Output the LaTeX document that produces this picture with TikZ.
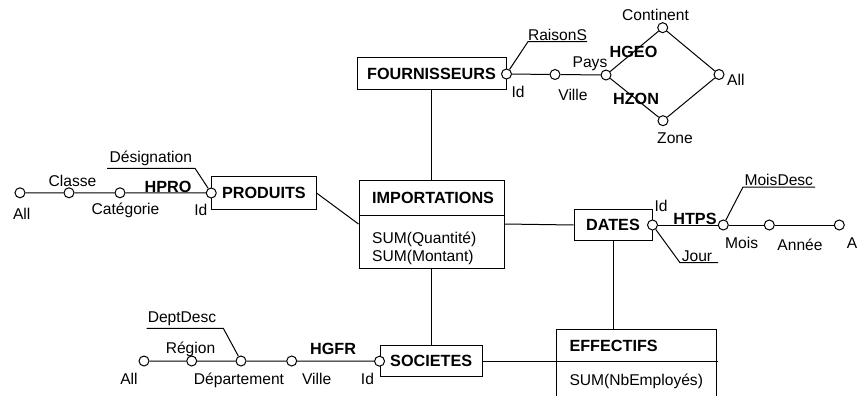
\documentclass[tikz,border=0pt]{standalone}
\usepackage{fontspec}
\setmainfont{Liberation Sans}
\begin{document}
\begin{tikzpicture}[x=1pt,y=-1pt,
  every node/.style={font=\fontsize{15.6}{18}\selectfont},
  ent/.style={draw, rectangle, inner sep=0pt, line width=1pt, font=\fontsize{16.2}{18}\selectfont\bfseries},
  pt/.style={draw, circle, fill=white, minimum size=10pt, inner sep=0pt, line width=1pt},
  lbl/.style={anchor=base, inner sep=0pt},
  blbl/.style={anchor=base, inner sep=0pt, font=\fontsize{16.2}{18}\selectfont\bfseries},
  ln/.style={line width=1pt}]
\useasboundingbox (0,0) rectangle (857,396);

% entities
\node[ent, minimum width=149pt, minimum height=32pt] (four) at (431.5,74) {FOURNISSEURS};
\node[ent, minimum width=145pt, minimum height=88pt] (imp) at (431.5,224) {};
\coordinate (impdiv) at (0,215);
\draw[ln] (imp.west |- impdiv) -- (imp.east |- impdiv);
\node[blbl, anchor=base west] (impt) at (372,203.3) {IMPORTATIONS};
\node[lbl, anchor=base west] (impq) at (372,243.5) {SUM(Quantité)};
\node[lbl, anchor=base west] (impm) at (372,261) {SUM(Montant)};

\node[ent, minimum width=78pt, minimum height=31.5pt] (dat) at (613,225) {DATES};
\node[ent, minimum width=104.3pt, minimum height=32.6pt] (prod) at (263.9,193) {PRODUITS};
\node[ent, minimum width=102.3pt, minimum height=31pt] (soc) at (431.2,361.2) {SOCIETES};
\node[ent, minimum width=159.7pt, minimum height=90pt, anchor=north west] (eff) at (556,329.3) {};
\coordinate (effdiv) at (718.3,361);
\draw[ln] (eff.west |- effdiv) -- (effdiv);
\node[blbl, anchor=base west] (efft) at (569.3,351.7) {EFFECTIFS};
\node[lbl, anchor=base west] (effn) at (569.3,385) {SUM(NbEmployés)};

% connectors between entities
\draw[ln] (four.south) -- (imp.north);
\draw[ln] (imp.south) -- (imp.south |- soc.north);
\draw[ln] (prod.east) -- (imp.west);
\draw[ln] (imp.east) -- (dat.west);
\draw[ln] (dat.south) -- (dat.south |- eff.north);
\draw[ln] (soc.east) -- (soc.east -| eff.west);

% FOURNISSEURS hierarchy
\node[pt] (fId) at (four.east) {};
\node[pt] (fVil) at (555,74.5) {};
\node[pt] (fPay) at (606,75) {};
\node[pt] (fCon) at (662.7,27.7) {};
\node[pt] (fAll) at (719,74.5) {};
\node[pt] (fZon) at (663,120.7) {};
\draw[ln] (fId) -- (fVil) -- (fPay) -- (fCon) -- (fAll) -- (fZon) -- (fPay);
\coordinate (rs1) at (528,41.7);
\coordinate (rs2) at (587,41.7);
\draw[ln] (fId) -- (rs1) -- (rs2);
\node[lbl] (lrs) at (557.5,40.3) {RaisonS};
\node[lbl] (lcon) at (655.5,21) {Continent};
\node[blbl] (lhgeo) at (633.5,57.5) {HGEO};
\node[lbl] (lpay) at (590,68) {Pays};
\node[lbl] (lfid) at (518,97.5) {Id};
\node[lbl] (lfvil) at (573,100.5) {Ville};
\node[blbl] (lhzon) at (636,104) {HZON};
\node[lbl, anchor=base west] (lfall) at (727,85.5) {All};
\node[lbl] (lzon) at (675,143) {Zone};

% DATES hierarchy
\node[pt] (dId) at (dat.east) {};
\node[pt] (dMoi) at (723.3,225) {};
\node[pt] (dAnn) at (769.3,225) {};
\node[pt] (dA) at (839.3,225) {};
\draw[ln] (dId) -- (dMoi) -- (dAnn) -- (dA);
\coordinate (md1) at (743,187);
\coordinate (md2) at (815,187);
\draw[ln] (dMoi) -- (md1) -- (md2);
\coordinate (jo1) at (680,262.7);
\coordinate (jo2) at (718,262.7);
\draw[ln] (dId) -- (jo1) -- (jo2);
\node[lbl] (lmd) at (778.8,185) {MoisDesc};
\node[lbl] (ldid) at (661,211) {Id};
\node[blbl] (lhtps) at (695,224.5) {HTPS};
\node[lbl] (lmoi) at (741.7,248.5) {Mois};
\node[lbl] (lann) at (800,250) {Année};
\node[lbl, anchor=base west] (la) at (846.7,248) {A};
\node[lbl] (ljo) at (697,261) {Jour};

% PRODUITS hierarchy
\node[pt] (pId) at (prod.west) {};
\node[pt] (pCat) at (120,192.8) {};
\node[pt] (pCla) at (69,192.8) {};
\node[pt] (pAll) at (20,192.8) {};
\draw[ln] (pId) -- (pCat) -- (pCla) -- (pAll);
\coordinate (ds1) at (195,168.3);
\coordinate (ds2) at (107,168.3);
\draw[ln] (pId) -- (ds1) -- (ds2);
\node[lbl] (lds) at (150.8,162) {Désignation};
\node[lbl] (lcla) at (72.5,186.5) {Classe};
\node[blbl] (lhpro) at (168,192) {HPRO};
\node[lbl] (lpall) at (21.7,219.5) {All};
\node[lbl] (lcat) at (125.5,214.3) {Catégorie};
\node[lbl] (lpid) at (200.8,215) {Id};

% SOCIETES hierarchy
\node[pt] (sId) at (soc.west) {};
\node[pt] (sVil) at (291.7,361) {};
\node[pt] (sDep) at (241,361) {};
\node[pt] (sReg) at (191.7,361) {};
\node[pt] (sAll) at (144,361) {};
\draw[ln] (sId) -- (sVil) -- (sDep) -- (sReg) -- (sAll);
\coordinate (dd1) at (223.3,328.3);
\coordinate (dd2) at (146.7,328.3);
\draw[ln] (sDep) -- (dd1) -- (dd2);
\node[lbl] (ldd) at (182,322) {DeptDesc};
\node[lbl] (lreg) at (190.5,353.3) {Région};
\node[blbl] (lhgfr) at (333,354) {HGFR};
\node[lbl] (lsall) at (129,384.5) {All};
\node[lbl] (ldep) at (239,384.5) {Département};
\node[lbl] (lsvil) at (316.7,384.5) {Ville};
\node[lbl] (lsid) at (367.5,384.5) {Id};
\end{tikzpicture}
\end{document}
